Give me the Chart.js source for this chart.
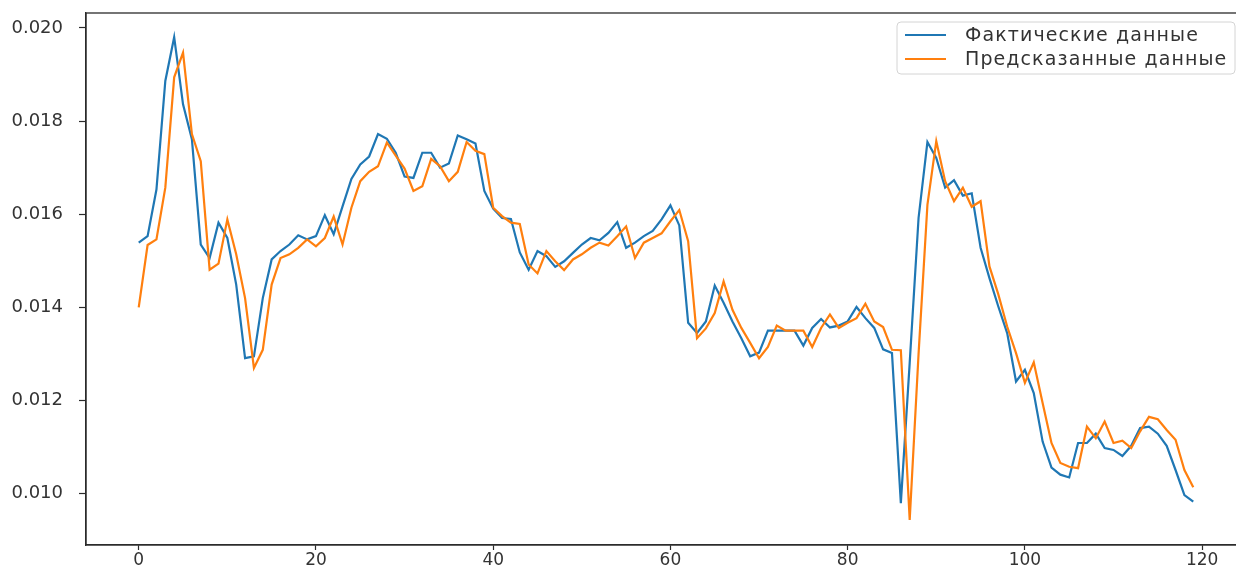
<!DOCTYPE html>
<html lang="ru">
<head>
<meta charset="utf-8">
<title>Фактические и предсказанные данные</title>
<script src="https://cdn.jsdelivr.net/npm/chart.js@4.4.1/dist/chart.umd.min.js"></script>
<style>
  html, body { margin: 0; padding: 0; background: #ffffff; overflow: hidden; }
  #wrap { width: 1236px; height: 571px; overflow: hidden; }
  canvas { display: block; }
</style>
</head>
<body>
<div id="wrap"><canvas id="chart" width="1247" height="571"></canvas></div>
<script>
// Series values, one per time step (0 … 119)
const actual = [
  0.01539, 0.01553, 0.01653, 0.01886, 0.01980, 0.01836, 0.01761, 0.01535, 0.01506, 0.01582,
  0.01549, 0.01449, 0.01291, 0.01295, 0.01420, 0.01503, 0.01521, 0.01535, 0.01555, 0.01546,
  0.01553, 0.01598, 0.01557, 0.01617, 0.01676, 0.01707, 0.01724, 0.01772, 0.01762, 0.01732,
  0.01681, 0.01678, 0.01732, 0.01732, 0.01700, 0.01709, 0.01769, 0.01761, 0.01752, 0.01650,
  0.01612, 0.01592, 0.01590, 0.01518, 0.01481, 0.01521, 0.01510, 0.01487, 0.01499, 0.01517,
  0.01535, 0.01549, 0.01544, 0.01560, 0.01583, 0.01528, 0.01539, 0.01553, 0.01564, 0.01589,
  0.01619, 0.01576, 0.01367, 0.01345, 0.01370, 0.01447, 0.01410, 0.01370, 0.01334, 0.01295,
  0.01303, 0.01350, 0.01350, 0.01350, 0.01350, 0.01318, 0.01356, 0.01375, 0.01357, 0.01361,
  0.01370, 0.01401, 0.01377, 0.01356, 0.01310, 0.01302, 0.00980, 0.01281, 0.01592, 0.01755,
  0.01721, 0.01657, 0.01673, 0.01640, 0.01645, 0.01528, 0.01463, 0.01402, 0.01345, 0.01241,
  0.01266, 0.01216, 0.01112, 0.01056, 0.01041, 0.01035, 0.01109, 0.01109, 0.01129, 0.01098,
  0.01094, 0.01081, 0.01103, 0.01141, 0.01144, 0.01129, 0.01103, 0.01051, 0.00997, 0.00983
];

const predicted = [
  0.01400, 0.01534, 0.01546, 0.01657, 0.01894, 0.01947, 0.01772, 0.01714, 0.01481, 0.01494,
  0.01589, 0.01514, 0.01420, 0.01270, 0.01309, 0.01449, 0.01506, 0.01514, 0.01528, 0.01546,
  0.01531, 0.01549, 0.01595, 0.01535, 0.01614, 0.01671, 0.01691, 0.01703, 0.01754, 0.01726,
  0.01698, 0.01650, 0.01660, 0.01719, 0.01703, 0.01671, 0.01691, 0.01755, 0.01736, 0.01729,
  0.01614, 0.01596, 0.01582, 0.01579, 0.01492, 0.01473, 0.01521, 0.01499, 0.01480, 0.01503,
  0.01514, 0.01528, 0.01539, 0.01533, 0.01553, 0.01574, 0.01506, 0.01539, 0.01549, 0.01559,
  0.01585, 0.01609, 0.01542, 0.01334, 0.01355, 0.01388, 0.01456, 0.01395, 0.01356, 0.01324,
  0.01291, 0.01315, 0.01361, 0.01350, 0.01350, 0.01350, 0.01315, 0.01356, 0.01385, 0.01356,
  0.01367, 0.01377, 0.01408, 0.01370, 0.01358, 0.01309, 0.01308, 0.00944, 0.01300, 0.01620,
  0.01757, 0.01671, 0.01628, 0.01657, 0.01616, 0.01628, 0.01488, 0.01428, 0.01359, 0.01302,
  0.01238, 0.01282, 0.01195, 0.01109, 0.01066, 0.01058, 0.01055, 0.01144, 0.01119, 0.01155,
  0.01109, 0.01114, 0.01098, 0.01134, 0.01165, 0.01160, 0.01137, 0.01116, 0.01051, 0.01014
];

const seriesLabels = ['Фактические данные', 'Предсказанные данные'];
const seriesColors = ['#1f77b4', '#ff7f0e'];

// Tick labels
const xTicks = [0, 20, 40, 60, 80, 100, 120];
const yTicks = [0.010, 0.012, 0.014, 0.016, 0.018, 0.020];

const toPoints = arr => arr.map((v, i) => ({ x: i, y: v }));

const AXIS_COLOR = '#2b2b2b';
const TEXT_COLOR = '#333333';

// Closed frame around the plotting area (top and right spines included)
const framePlugin = {
  id: 'frame',
  afterDatasetsDraw(chart) {
    const { ctx, chartArea: a } = chart;
    ctx.save();
    ctx.strokeStyle = AXIS_COLOR;
    ctx.lineWidth = 1.3;
    ctx.strokeRect(a.left, a.top, a.right - a.left, a.bottom - a.top);
    ctx.restore();
  }
};

// Legend box in the upper-right corner of the plotting area
const legendBoxPlugin = {
  id: 'legendBox',
  afterDraw(chart) {
    const { ctx } = chart;
    const box = { x: 897, y: 22, w: 338, h: 52, r: 4 };
    ctx.save();
    ctx.beginPath();
    ctx.roundRect(box.x, box.y, box.w, box.h, box.r);
    ctx.fillStyle = 'rgba(255,255,255,0.85)';
    ctx.fill();
    ctx.strokeStyle = '#d4d4d4';
    ctx.lineWidth = 1;
    ctx.stroke();

    ctx.font = '19px "DejaVu Sans"';
    ctx.textBaseline = 'middle';
    ctx.textAlign = 'left';
    if ('letterSpacing' in ctx) ctx.letterSpacing = '1.1px';
    chart.data.datasets.forEach((ds, i) => {
      const y = 35 + i * 24;
      ctx.strokeStyle = ds.borderColor;
      ctx.lineWidth = 2.2;
      ctx.beginPath();
      ctx.moveTo(905, y);
      ctx.lineTo(946, y);
      ctx.stroke();
      ctx.fillStyle = TEXT_COLOR;
      ctx.fillText(ds.label, 965, y + 1);
    });
    ctx.restore();
  }
};

new Chart(document.getElementById('chart'), {
  type: 'line',
  data: {
    datasets: [
      {
        label: seriesLabels[0],
        data: toPoints(actual),
        borderColor: seriesColors[0],
        backgroundColor: seriesColors[0],
        borderWidth: 2.2,
        order: 1
      },
      {
        label: seriesLabels[1],
        data: toPoints(predicted),
        borderColor: seriesColors[1],
        backgroundColor: seriesColors[1],
        borderWidth: 2.2,
        order: 0
      }
    ]
  },
  options: {
    responsive: false,
    animation: false,
    devicePixelRatio: 1,
    layout: { padding: { left: 0, top: 13, right: 1, bottom: 0 } },
    elements: {
      point: { radius: 0, hoverRadius: 0 },
      line: { tension: 0, borderJoinStyle: 'miter' }
    },
    plugins: {
      legend: { display: false },
      tooltip: { enabled: false }
    },
    scales: {
      x: {
        type: 'linear',
        min: -5.95,
        max: 124.95,
        afterBuildTicks(scale) { scale.ticks = xTicks.map(v => ({ value: v })); },
        afterFit(scale) {
          scale.height = 26;
          scale.paddingLeft = 0;
          scale.paddingRight = 0;
        },
        grid: {
          drawOnChartArea: false,
          drawTicks: true,
          tickLength: 5,
          tickColor: AXIS_COLOR,
          tickWidth: 1.2
        },
        border: { display: true, color: AXIS_COLOR, width: 1.3 },
        ticks: {
          autoSkip: false,
          maxRotation: 0,
          padding: 0,
          color: TEXT_COLOR,
          font: { family: 'DejaVu Sans', size: 17 },
          callback: v => String(v)
        }
      },
      y: {
        type: 'linear',
        min: 0.0089,
        max: 0.02032,
        afterBuildTicks(scale) { scale.ticks = yTicks.map(v => ({ value: v })); },
        afterFit(scale) {
          scale.width = 86;
          scale.paddingTop = 0;
          scale.paddingBottom = 0;
        },
        grid: {
          drawOnChartArea: false,
          drawTicks: true,
          tickLength: 7,
          tickColor: AXIS_COLOR,
          tickWidth: 1.2
        },
        border: { display: true, color: AXIS_COLOR, width: 1.3 },
        ticks: {
          autoSkip: false,
          padding: 16,
          color: TEXT_COLOR,
          font: { family: 'DejaVu Sans', size: 18 },
          callback: v => v.toFixed(3)
        }
      }
    }
  },
  plugins: [framePlugin, legendBoxPlugin]
});
</script>
</body>
</html>
